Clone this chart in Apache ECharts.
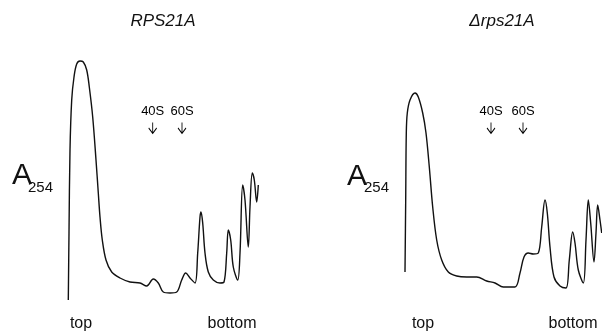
<!DOCTYPE html>
<html>
<head>
<meta charset="utf-8">
<script src="https://cdn.jsdelivr.net/npm/echarts@6/dist/echarts.min.js"></script>
<style>html,body{margin:0;padding:0;background:#fff}#c{width:602px;height:332px}</style>
</head>
<body>
<div id="c"></div>
<script>
// Gradient position (arbitrary units) and A254 (arbitrary units)
var wtPos = [8.3,9,10,11.7,14,16.7,20,23.3,26.7,29.3,32.7,36,38.3,40,42.3,46,51.7,60,70,80,86.7,93.3,98.3,103.3,110,116.7,121.7,125.7,130,135,137.7,140,141,142.7,145,148.3,153.3,160,164,166.7,168.3,170.7,173.3,177.7,180,182.7,185,188.3,190,192.3,194.3,196.7,198.3];
var wtA254 = [10,77,160,210,233,246,249,248,240,223,193,150,117,93,70,50,38,32,28,27,24,31,27,18,17,18,30,37,32,27,57,93,98,87,57,38,30,27,28,57,80,70,43,30,57,125,110,63,103,137,130,108,125];
var mutPos = [10,10.7,11.3,12.3,15,20,23.3,27.7,31,34.3,37.7,41.7,46.7,53.3,61.7,71.7,81.7,91.7,100,108.3,120,125,129,133.3,138.3,143.3,146.7,150,152.3,155,159,165,171,174.3,177.7,180,183.3,188.3,191,193.3,195.7,199,201,202.7,205,206.7];
var mutA254 = [38,110,177,197,210,217,213,197,177,143,103,70,50,38,34,33,33,29,27,23,23,37,53,57,56,57,83,110,97,63,33,24,22,50,78,67,40,27,70,110,87,48,77,105,90,77];
var panelTitles = ['RPS21A', '\u0394rps21A'];
var markerNames = ['40S', '60S'];
var wtMarkerPos = [92.7, 122];
var mutMarkerPos = [96, 128];
var markerLevel = 182;
var endLabels = ['top', 'bottom'];

function pairs(xs, ys) { return xs.map(function (x, i) { return [x, ys[i]]; }); }
function markers(xs) { return xs.map(function (x, i) { return { name: markerNames[i], value: [x, markerLevel] }; }); }

var font = 'Liberation Sans, Arial, Helvetica, sans-serif';
var ink = '#111';
function txt(x, y, s, size, extra) {
  var st = { text: s, x: x, y: y, fill: ink, font: size + 'px ' + font, textAlign: 'center', textVerticalAlign: 'middle' };
  if (extra) for (var k in extra) st[k] = extra[k];
  return { type: 'text', style: st, silent: true };
}

var chart = echarts.init(document.getElementById('c'), null, { renderer: 'canvas' });
var arrowSym = 'path://M5 0 L5 12 M0 6 L5 12 L10 6';
function lineSeries(i, data) {
  return { type: 'line', xAxisIndex: i, yAxisIndex: i, data: data, showSymbol: false, smooth: 0.35,
    lineStyle: { color: ink, width: 1.4 }, clip: false, animation: false };
}
function markerSeries(i, data) {
  return { type: 'scatter', xAxisIndex: i, yAxisIndex: i, data: data, symbol: arrowSym, symbolSize: [8, 11],
    itemStyle: { color: 'none', borderColor: '#000', borderWidth: 1, opacity: 1 },
    label: { show: true, position: 'top', distance: 2, formatter: '{b}', color: '#000', opacity: 1,
      textBorderWidth: 0, fontSize: 13, fontFamily: font },
    emphasis: { disabled: true },
    animation: false, silent: true };
}
chart.setOption({
  backgroundColor: '#fff',
  animation: false,
  grid: [
    { left: 60, top: 40, width: 220, height: 270 },
    { left: 395, top: 40, width: 207, height: 270 }
  ],
  xAxis: [
    { type: 'value', gridIndex: 0, min: 0, max: 220, show: false },
    { type: 'value', gridIndex: 1, min: 0, max: 207, show: false }
  ],
  yAxis: [
    { type: 'value', gridIndex: 0, min: 0, max: 270, show: false },
    { type: 'value', gridIndex: 1, min: 0, max: 270, show: false }
  ],
  series: [
    lineSeries(0, pairs(wtPos, wtA254)),
    lineSeries(1, pairs(mutPos, mutA254)),
    markerSeries(0, markers(wtMarkerPos)),
    markerSeries(1, markers(mutMarkerPos))
  ],
  graphic: [
    txt(163, 21, panelTitles[0], 17, { font: 'italic 17px ' + font }),
    txt(502, 21, panelTitles[1], 17, { font: 'italic 17px ' + font }),
    txt(12, 176, 'A', 30, { textAlign: 'left' }),
    txt(28, 188, '254', 15, { textAlign: 'left' }),
    txt(347, 177, 'A', 30, { textAlign: 'left' }),
    txt(364, 188, '254', 15, { textAlign: 'left' }),
    txt(81, 324, endLabels[0], 16),
    txt(232, 324, endLabels[1], 16),
    txt(423, 324, endLabels[0], 16),
    txt(573, 324, endLabels[1], 16)
  ]
});
</script>
</body>
</html>
